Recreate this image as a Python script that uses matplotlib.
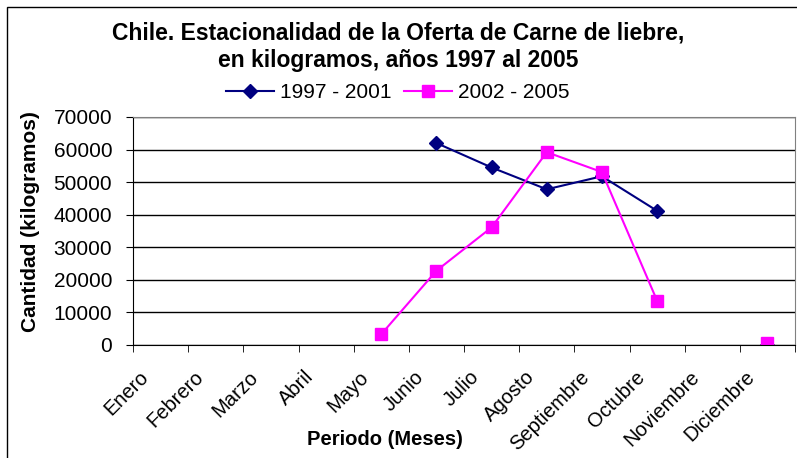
import numpy as np
import matplotlib.pyplot as plt
import matplotlib.transforms as mtransforms
from matplotlib.patches import Rectangle

plt.rcParams['font.family'] = ['Liberation Sans', 'DejaVu Sans']

meses = ['Enero', 'Febrero', 'Marzo', 'Abril', 'Mayo', 'Junio', 'Julio',
         'Agosto', 'Septiembre', 'Octubre', 'Noviembre', 'Diciembre']
serie_1997_2001 = [np.nan, np.nan, np.nan, np.nan, np.nan, 62000, 54500,
                   47800, 51800, 41200, np.nan, 0]
serie_2002_2005 = [np.nan, np.nan, np.nan, np.nan, 3300, 22800, 36100,
                   59200, 53100, 13600, np.nan, 500]
yticks = [0, 10000, 20000, 30000, 40000, 50000, 60000, 70000]

W, H = 797, 458
fig = plt.figure(figsize=(W / 100, H / 100), dpi=100)
fig.patches.append(Rectangle((7 / W, -0.1), 1.2, 1.1 - 7 / H, transform=fig.transFigure,
                             fill=False, edgecolor='black', linewidth=1.0))

ax = fig.add_axes([133 / W, (H - 345) / H, 662 / W, 228 / H])
x = np.arange(len(meses))
ax.plot(x, serie_1997_2001, color='#000080', marker='D', markersize=7,
        linewidth=1.5, label='1997 - 2001')
ax.plot(x, serie_2002_2005, color='#FF00FF', marker='s', markersize=8,
        linewidth=1.5, label='2002 - 2005')

ax.set_xlim(-0.5, 11.5)
ax.set_ylim(0, 70000)
ax.set_yticks(yticks)
ax.set_yticklabels([str(v) for v in yticks])
ax.yaxis.grid(True, color='black', linewidth=1.0)
ax.set_axisbelow(True)

ax.set_xticks(x)
ax.set_xticklabels(meses, rotation=45, ha='right', va='top', rotation_mode='anchor')
ax.set_xticks(np.arange(-0.5, 12, 1), minor=True)
ax.tick_params(axis='x', which='major', length=0, pad=16, labelsize=14.5)
ax.tick_params(axis='x', which='minor', length=5, direction='out')
ax.tick_params(axis='y', length=5, direction='out', labelsize=15, pad=10)
off = mtransforms.ScaledTranslation(-22 / 100, 0, fig.dpi_scale_trans)
for lbl in ax.get_xticklabels():
    lbl.set_transform(lbl.get_transform() + off)

for s in ['top', 'right']:
    ax.spines[s].set_color('#808080')
ax.spines['left'].set_color('black')
ax.spines['bottom'].set_color('black')

ax.set_xlabel('Periodo (Meses)', fontsize=14.5, fontweight='bold')
ax.xaxis.set_label_coords((385 - 133) / 662, -(430 - 345) / 228)
ax.set_ylabel('Cantidad (kilogramos)', fontsize=15, fontweight='bold')
ax.yaxis.set_label_coords(-(133 - 40) / 662, 0.54)

fig.text(0.5, 1 - 33 / H, 'Chile. Estacionalidad de la Oferta de Carne de liebre,',
         ha='center', va='center', fontsize=16.5, fontweight='bold')
fig.text(0.5, 1 - 61 / H, 'en kilogramos, años 1997 al 2005',
         ha='center', va='center', fontsize=16.5, fontweight='bold')
fig.legend(loc='center', bbox_to_anchor=(398 / W, 1 - 93 / H), ncol=2, frameon=False,
           fontsize=15, handlelength=2.3, handletextpad=0.3, columnspacing=0.6,
           borderaxespad=0)

fig.savefig('out.png', dpi=100)
